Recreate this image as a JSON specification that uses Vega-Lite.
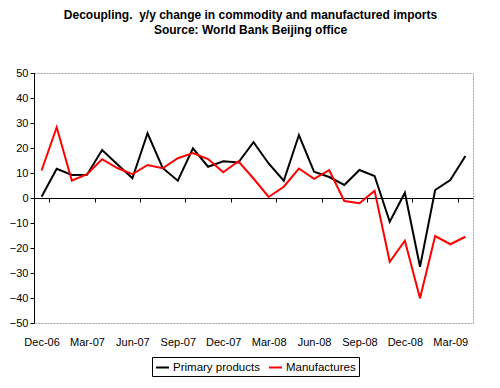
{
  "$schema": "https://vega.github.io/schema/vega-lite/v6.json",
  "width": 439,
  "height": 250,
  "autosize": {"type": "none"},
  "padding": {"left": 34, "top": 73, "right": 27, "bottom": 65},
  "background": "white",
  "config": {
    "view": {"stroke": "#a0a0a0", "strokeDash": [2, 1]},
    "font": "Liberation Sans"
  },
  "title": {
    "text": ["Decoupling.\u00a0 y/y change in commodity and manufactured imports", "Source: World Bank Beijing office"],
    "fontSize": 12,
    "fontWeight": "bold",
    "font": "Liberation Sans",
    "color": "#000000",
    "lineHeight": 15,
    "offset": 30,
    "anchor": "middle",
    "dx": -3
  },
  "data": {
    "values": [
      {"month": "Dec-06", "series": "Primary products", "value": 0.5},
      {"month": "Jan-07", "series": "Primary products", "value": 11.7},
      {"month": "Feb-07", "series": "Primary products", "value": 9.2},
      {"month": "Mar-07", "series": "Primary products", "value": 9.3},
      {"month": "Apr-07", "series": "Primary products", "value": 19.2},
      {"month": "May-07", "series": "Primary products", "value": 13.5},
      {"month": "Jun-07", "series": "Primary products", "value": 7.9},
      {"month": "Jul-07", "series": "Primary products", "value": 25.9},
      {"month": "Aug-07", "series": "Primary products", "value": 12},
      {"month": "Sep-07", "series": "Primary products", "value": 6.9},
      {"month": "Oct-07", "series": "Primary products", "value": 19.9},
      {"month": "Nov-07", "series": "Primary products", "value": 12.5},
      {"month": "Dec-07", "series": "Primary products", "value": 14.7},
      {"month": "Jan-08", "series": "Primary products", "value": 14.2},
      {"month": "Feb-08", "series": "Primary products", "value": 22.3},
      {"month": "Mar-08", "series": "Primary products", "value": 13.8},
      {"month": "Apr-08", "series": "Primary products", "value": 6.9},
      {"month": "May-08", "series": "Primary products", "value": 25.2},
      {"month": "Jun-08", "series": "Primary products", "value": 10.5},
      {"month": "Jul-08", "series": "Primary products", "value": 8.4},
      {"month": "Aug-08", "series": "Primary products", "value": 5.2},
      {"month": "Sep-08", "series": "Primary products", "value": 11.2},
      {"month": "Oct-08", "series": "Primary products", "value": 8.8},
      {"month": "Nov-08", "series": "Primary products", "value": -9.5},
      {"month": "Dec-08", "series": "Primary products", "value": 2.1},
      {"month": "Jan-09", "series": "Primary products", "value": -27.5},
      {"month": "Feb-09", "series": "Primary products", "value": 3.2},
      {"month": "Mar-09", "series": "Primary products", "value": 7.2},
      {"month": "Apr-09", "series": "Primary products", "value": 16.8},
      {"month": "Dec-06", "series": "Manufactures", "value": 11},
      {"month": "Jan-07", "series": "Manufactures", "value": 28.3},
      {"month": "Feb-07", "series": "Manufactures", "value": 6.9},
      {"month": "Mar-07", "series": "Manufactures", "value": 9.5},
      {"month": "Apr-07", "series": "Manufactures", "value": 15.5},
      {"month": "May-07", "series": "Manufactures", "value": 12},
      {"month": "Jun-07", "series": "Manufactures", "value": 9.5},
      {"month": "Jul-07", "series": "Manufactures", "value": 13.2},
      {"month": "Aug-07", "series": "Manufactures", "value": 11.9},
      {"month": "Sep-07", "series": "Manufactures", "value": 15.9},
      {"month": "Oct-07", "series": "Manufactures", "value": 18},
      {"month": "Nov-07", "series": "Manufactures", "value": 15.6},
      {"month": "Dec-07", "series": "Manufactures", "value": 10.3},
      {"month": "Jan-08", "series": "Manufactures", "value": 14.7},
      {"month": "Feb-08", "series": "Manufactures", "value": 7.8},
      {"month": "Mar-08", "series": "Manufactures", "value": 0.4},
      {"month": "Apr-08", "series": "Manufactures", "value": 4.5},
      {"month": "May-08", "series": "Manufactures", "value": 11.8},
      {"month": "Jun-08", "series": "Manufactures", "value": 7.7},
      {"month": "Jul-08", "series": "Manufactures", "value": 11.1},
      {"month": "Aug-08", "series": "Manufactures", "value": -1.2},
      {"month": "Sep-08", "series": "Manufactures", "value": -2.1},
      {"month": "Oct-08", "series": "Manufactures", "value": 2.9},
      {"month": "Nov-08", "series": "Manufactures", "value": -25.5},
      {"month": "Dec-08", "series": "Manufactures", "value": -17.1},
      {"month": "Jan-09", "series": "Manufactures", "value": -40.1},
      {"month": "Feb-09", "series": "Manufactures", "value": -15.2},
      {"month": "Mar-09", "series": "Manufactures", "value": -18.5},
      {"month": "Apr-09", "series": "Manufactures", "value": -15.5}
    ]
  },
  "mark": {"type": "line", "strokeWidth": 2},
  "encoding": {
    "x": {
      "field": "month",
      "type": "ordinal",
      "sort": null,
      "scale": {"type": "band", "paddingInner": 0, "paddingOuter": 0},
      "axis": {
        "title": null,
        "values": ["Dec-06", "Mar-07", "Jun-07", "Sep-07", "Dec-07", "Mar-08", "Jun-08", "Sep-08", "Dec-08", "Mar-09"],
        "labelAngle": 0,
        "offset": -125,
        "domainColor": "#000000",
        "tickColor": "#000000",
        "tickSize": 4,
        "tickBand": "extent",
        "labelPadding": 134,
        "labelFontSize": 11,
        "labelColor": "#000000",
        "labelFont": "Liberation Sans"
      }
    },
    "y": {
      "field": "value",
      "type": "quantitative",
      "scale": {"domain": [-50, 50], "nice": false},
      "axis": {
        "title": null,
        "values": [-50, -40, -30, -20, -10, 0, 10, 20, 30, 40, 50],
        "grid": false,
        "domainColor": "#000000",
        "tickColor": "#000000",
        "tickSize": 4,
        "labelFontSize": 11,
        "labelColor": "#000000",
        "labelFont": "Liberation Sans",
        "labelPadding": 2
      }
    },
    "color": {
      "field": "series",
      "type": "nominal",
      "sort": null,
      "scale": {"domain": ["Primary products", "Manufactures"], "range": ["#000000", "#ff0000"]},
      "legend": {
        "title": null,
        "orient": "none",
        "legendX": 118,
        "legendY": 284,
        "direction": "horizontal",
        "strokeColor": "#000000",
        "padding": 3,
        "symbolType": "stroke",
        "symbolStrokeWidth": 2,
        "symbolSize": 169,
        "labelFontSize": 11.5,
        "labelColor": "#000000",
        "labelFont": "Liberation Sans",
        "labelOffset": 3,
        "columnPadding": 5
      }
    }
  }
}
